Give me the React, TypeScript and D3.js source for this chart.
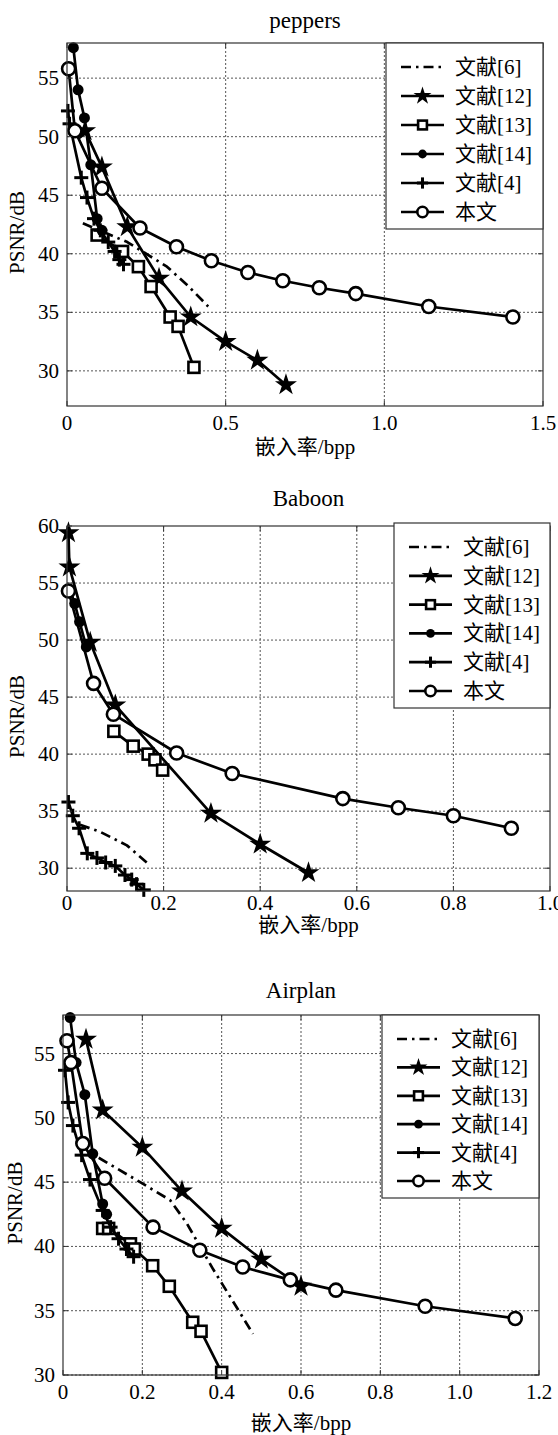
import React from "react";
import * as d3 from "d3";

// legend order and marker style of every series
const seriesNames = ["文献[6]", "文献[12]", "文献[13]", "文献[14]", "文献[4]", "本文"];
const markerKinds = ["none", "star", "square", "dot", "plus", "circle"];

// ---- peppers ----
const peppers6 = [[0.05, 42.6], [0.19, 41.0], [0.315, 38.9], [0.38, 37.3], [0.445, 35.5]];
const peppers12 = [[0.057, 50.5], [0.11, 47.4], [0.19, 42.3], [0.29, 37.9], [0.39, 34.6], [0.5, 32.5], [0.6, 30.9], [0.69, 28.8]];
const peppers13 = [[0.095, 41.6], [0.175, 40.2], [0.225, 38.9], [0.265, 37.2], [0.325, 34.6], [0.35, 33.8], [0.4, 30.3]];
const peppers14 = [[0.02, 57.6], [0.035, 54.0], [0.055, 51.6], [0.075, 47.6], [0.095, 43.0], [0.11, 42.0]];
const peppers4 = [[0.003, 52.2], [0.008, 51.1], [0.045, 46.5], [0.063, 44.8], [0.085, 43.0], [0.105, 42.0], [0.13, 41.0], [0.15, 40.2], [0.165, 39.5], [0.178, 39.1]];
const peppersOurs = [[0.005, 55.8], [0.025, 50.5], [0.11, 45.6], [0.23, 42.2], [0.345, 40.6], [0.455, 39.4], [0.57, 38.4], [0.68, 37.7], [0.795, 37.1], [0.91, 36.6], [1.14, 35.5], [1.405, 34.6]];

// ---- Baboon ----
const baboon6 = [[0.027, 33.8], [0.068, 33.2], [0.124, 32.0], [0.165, 30.5]];
const baboon12 = [[0.003, 59.4], [0.005, 56.4], [0.048, 49.8], [0.1, 44.3], [0.298, 34.8], [0.4, 32.1], [0.5, 29.6]];
const baboon13 = [[0.097, 42.0], [0.137, 40.7], [0.168, 40.0], [0.182, 39.5], [0.198, 38.6]];
const baboon14 = [[0.006, 54.4], [0.016, 53.2], [0.026, 51.6], [0.04, 49.4]];
const baboon4 = [[0.003, 35.8], [0.012, 34.6], [0.025, 33.5], [0.042, 31.3], [0.062, 30.9], [0.08, 30.5], [0.1, 30.2], [0.12, 29.4], [0.134, 29.0], [0.144, 28.6], [0.159, 28.1]];
const baboonOurs = [[0.003, 54.3], [0.055, 46.2], [0.096, 43.5], [0.227, 40.1], [0.342, 38.3], [0.571, 36.1], [0.686, 35.3], [0.8, 34.6], [0.92, 33.5]];

// ---- Airplan ----
const airplan6 = [[0.09, 46.9], [0.2, 44.9], [0.27, 43.6], [0.312, 41.8], [0.379, 38.2], [0.479, 33.2]];
const airplan12 = [[0.058, 56.1], [0.1, 50.6], [0.2, 47.7], [0.3, 44.3], [0.4, 41.4], [0.5, 39.0], [0.6, 36.9]];
const airplan13 = [[0.1, 41.4], [0.115, 41.4], [0.17, 40.2], [0.18, 39.8], [0.226, 38.5], [0.268, 36.9], [0.327, 34.1], [0.348, 33.4], [0.4, 30.2]];
const airplan14 = [[0.018, 57.8], [0.033, 54.3], [0.055, 51.8], [0.075, 47.2], [0.1, 43.3], [0.11, 42.5]];
const airplan4 = [[0.005, 53.7], [0.013, 51.2], [0.025, 49.4], [0.047, 47.1], [0.068, 45.2], [0.1, 42.8], [0.12, 41.5], [0.14, 40.6], [0.16, 39.8], [0.178, 39.2]];
const airplanOurs = [[0.01, 56.0], [0.02, 54.3], [0.05, 48.0], [0.105, 45.3], [0.227, 41.5], [0.345, 39.7], [0.453, 38.4], [0.573, 37.4], [0.688, 36.6], [0.913, 35.35], [1.14, 34.4]];

// ticks
const peppersXTicks = [0, 0.5, 1, 1.5];
const peppersXLabels = ["0", "0.5", "1.0", "1.5"];
const peppersYTicks = [30, 35, 40, 45, 50, 55];
const baboonXTicks = [0, 0.2, 0.4, 0.6, 0.8, 1];
const baboonXLabels = ["0", "0.2", "0.4", "0.6", "0.8", "1.0"];
const baboonYTicks = [30, 35, 40, 45, 50, 55, 60];
const airplanXTicks = [0, 0.2, 0.4, 0.6, 0.8, 1, 1.2];
const airplanXLabels = ["0", "0.2", "0.4", "0.6", "0.8", "1.0", "1.2"];
const airplanYTicks = [30, 35, 40, 45, 50, 55];

const FONT = "'Liberation Serif', 'Times New Roman', 'Noto Sans CJK SC', serif";

const panels = [
  {
    title: "peppers", left: 67, right: 543, top: 43, bottom: 406,
    xDomain: [0, 1.5], yDomain: [27, 58],
    xTicks: peppersXTicks, xLabels: peppersXLabels, yTicks: peppersYTicks,
    series: [peppers6, peppers12, peppers13, peppers14, peppers4, peppersOurs],
    legend: { x: 386, y: 43, w: 157, h: 186 },
    titleY: 20, tickDy: 17, labelDy: 41, ylabelX: 17,
  },
  {
    title: "Baboon", left: 67, right: 550, top: 526, bottom: 891,
    xDomain: [0, 1], yDomain: [28, 60],
    xTicks: baboonXTicks, xLabels: baboonXLabels, yTicks: baboonYTicks,
    series: [baboon6, baboon12, baboon13, baboon14, baboon4, baboonOurs],
    legend: { x: 394, y: 523, w: 156, h: 185 },
    titleY: 498, tickDy: 12, labelDy: 34, ylabelX: 17,
  },
  {
    title: "Airplan", left: 63, right: 539, top: 1015, bottom: 1375,
    xDomain: [0, 1.2], yDomain: [30, 58],
    xTicks: airplanXTicks, xLabels: airplanXLabels, yTicks: airplanYTicks,
    series: [airplan6, airplan12, airplan13, airplan14, airplan4, airplanOurs],
    legend: { x: 382, y: 1015, w: 157, h: 183 },
    titleY: 990, tickDy: 17, labelDy: 48, ylabelX: 15,
  },
];

function Marker({ kind, x, y, big }: { kind: string; x: number; y: number; big: boolean }) {
  const k = big ? 1 : 0.8;
  if (kind === "star") {
    const d = d3.symbol().type(d3.symbolStar).size(big ? 150 : 100)();
    return <path d={d as string} transform={`translate(${x},${y})`} fill="#000" />;
  }
  if (kind === "square") {
    const s = 11 * k;
    return <rect x={x - s / 2} y={y - s / 2} width={s} height={s} fill="#fff" stroke="#000" strokeWidth={2.6} />;
  }
  if (kind === "dot") {
    return <circle cx={x} cy={y} r={5.5 * k} fill="#000" />;
  }
  if (kind === "plus") {
    const s = 7 * k;
    return (
      <g stroke="#000" strokeWidth={3}>
        <line x1={x - s} x2={x + s} y1={y} y2={y} />
        <line x1={x} x2={x} y1={y - s} y2={y + s} />
      </g>
    );
  }
  if (kind === "circle") {
    return <circle cx={x} cy={y} r={6.5 * k} fill="#fff" stroke="#000" strokeWidth={2.6} />;
  }
  return null;
}

function Panel({ p }: { p: any }) {
  const x = d3.scaleLinear().domain(p.xDomain).range([p.left, p.right]);
  const y = d3.scaleLinear().domain(p.yDomain).range([p.bottom, p.top]);
  const line = d3.line<number[]>().x((d) => x(d[0])).y((d) => y(d[1]));
  const cx = (p.left + p.right) / 2;
  const cy = (p.top + p.bottom) / 2;
  const L = p.legend;
  const rowH = (L.h - 41) / 5;

  return (
    <g fontFamily={FONT} fill="#000">
      <text x={cx} y={p.titleY} fontSize={23} textAnchor="middle" dominantBaseline="central">{p.title}</text>

      {/* grid */}
      <g stroke="#555" strokeWidth={1} strokeDasharray="2,2">
        {p.xTicks.slice(1, -1).map((t: number) => (
          <line key={"gx" + t} x1={x(t)} x2={x(t)} y1={p.top} y2={p.bottom} />
        ))}
        {p.xTicks.length && x(p.xTicks[p.xTicks.length - 1]) < p.right - 1 ? (
          <line x1={x(p.xTicks[p.xTicks.length - 1])} x2={x(p.xTicks[p.xTicks.length - 1])} y1={p.top} y2={p.bottom} />
        ) : null}
        {p.yTicks.filter((t: number) => y(t) > p.top + 1).map((t: number) => (
          <line key={"gy" + t} x1={p.left} x2={p.right} y1={y(t)} y2={y(t)} />
        ))}
      </g>

      {/* series */}
      {p.series.map((s: number[][], i: number) => (
        <g key={"s" + i}>
          <path
            d={line(s) as string}
            fill="none"
            stroke="#000"
            strokeWidth={2.7}
            strokeLinejoin="round"
            strokeDasharray={markerKinds[i] === "none" ? "10,5,2.5,5" : undefined}
          />
          {s.map((d, j) => (
            <Marker key={j} kind={markerKinds[i]} x={x(d[0])} y={y(d[1])} big={true} />
          ))}
        </g>
      ))}

      {/* axes box + ticks */}
      <rect x={p.left} y={p.top} width={p.right - p.left} height={p.bottom - p.top} fill="none" stroke="#333" strokeWidth={1.2} />
      <g stroke="#333" strokeWidth={1}>
        {p.xTicks.map((t: number) => (
          <g key={"tx" + t}>
            <line x1={x(t)} x2={x(t)} y1={p.bottom} y2={p.bottom - 5} />
            <line x1={x(t)} x2={x(t)} y1={p.top} y2={p.top + 5} />
          </g>
        ))}
        {p.yTicks.map((t: number) => (
          <g key={"ty" + t}>
            <line x1={p.left} x2={p.left + 5} y1={y(t)} y2={y(t)} />
            <line x1={p.right} x2={p.right - 5} y1={y(t)} y2={y(t)} />
          </g>
        ))}
      </g>

      {/* tick labels */}
      {p.xTicks.map((t: number, i: number) => (
        <text key={"lx" + t} x={x(t)} y={p.bottom + p.tickDy} fontSize={21} textAnchor="middle" dominantBaseline="central">
          {p.xLabels[i]}
        </text>
      ))}
      {p.yTicks.map((t: number) => (
        <text key={"ly" + t} x={p.left - 8} y={y(t)} fontSize={21} textAnchor="end" dominantBaseline="central">
          {t}
        </text>
      ))}

      <text x={cx} y={p.bottom + p.labelDy} fontSize={21} textAnchor="middle" dominantBaseline="central">嵌入率/bpp</text>
      <text transform={`translate(${p.ylabelX},${cy + 8}) rotate(-90)`} fontSize={21} textAnchor="middle" dominantBaseline="central">
        PSNR/dB
      </text>

      {/* legend */}
      <rect x={L.x} y={L.y} width={L.w} height={L.h} fill="#fff" stroke="#333" strokeWidth={1.2} />
      {seriesNames.map((name, i) => {
        const ry = L.y + 24 + i * rowH;
        return (
          <g key={"lg" + i}>
            <line
              x1={L.x + 15}
              x2={L.x + 58}
              y1={ry}
              y2={ry}
              stroke="#000"
              strokeWidth={2.7}
              strokeDasharray={markerKinds[i] === "none" ? "10,5,2.5,5" : undefined}
            />
            <Marker kind={markerKinds[i]} x={L.x + 36.5} y={ry} big={false} />
            <text x={L.x + 69} y={ry} fontSize={21} dominantBaseline="central">{name}</text>
          </g>
        );
      })}
    </g>
  );
}

export default function App() {
  return (
    <svg width={558} height={1435} style={{ position: "absolute", left: 0, top: 0, background: "#fff" }}>
      <rect width={558} height={1435} fill="#fff" />
      {panels.map((p) => (
        <Panel key={p.title} p={p} />
      ))}
    </svg>
  );
}
